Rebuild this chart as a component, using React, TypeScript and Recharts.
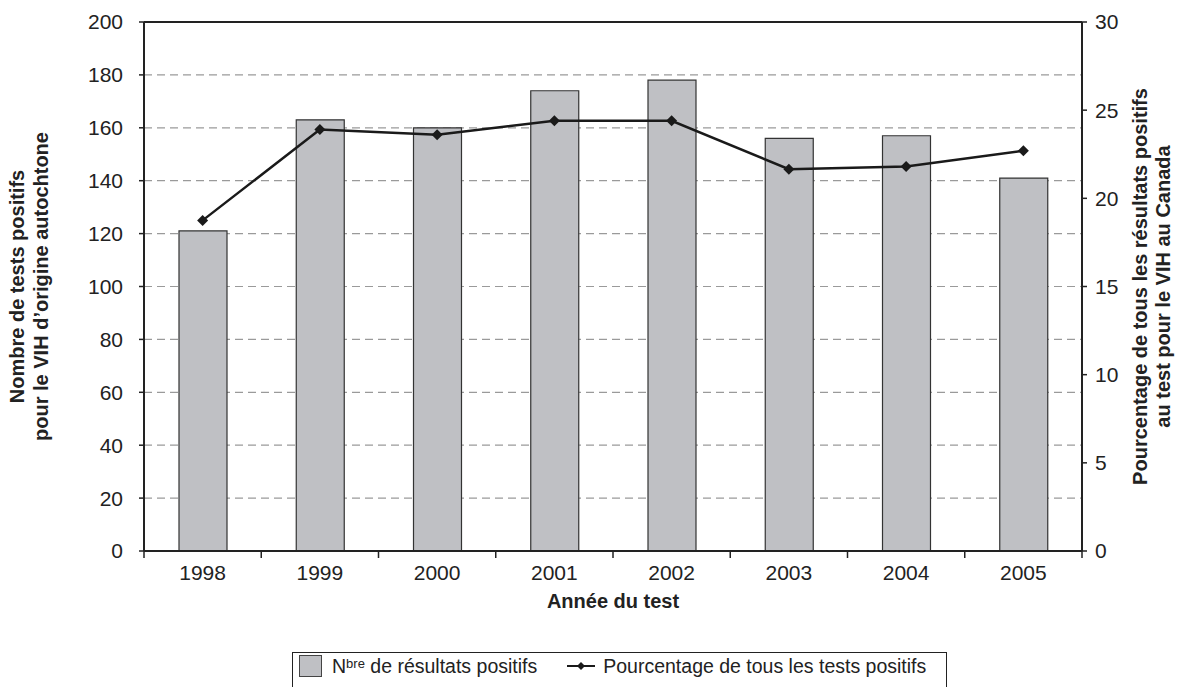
import React from "react";
import {
  ComposedChart,
  Bar,
  Line,
  XAxis,
  YAxis,
  CartesianGrid,
  Legend,
  ReferenceLine,
} from "recharts";

const years = ["1998", "1999", "2000", "2001", "2002", "2003", "2004", "2005"];
const positiveCounts = [121, 163, 160, 174, 178, 156, 157, 141];
const percentOfAllTests = [18.75, 23.9, 23.6, 24.4, 24.4, 21.65, 21.8, 22.7];
const leftTicks = [0, 20, 40, 60, 80, 100, 120, 140, 160, 180, 200];
const rightTicks = [0, 5, 10, 15, 20, 25, 30];

const data = years.map((year, i) => ({
  year,
  count: positiveCounts[i],
  pct: percentOfAllTests[i],
}));

const FONT = '"Liberation Sans", Arial, sans-serif';
const INK = "#222";
const BAR_FILL = "#bfc0c4";

const W = 1188;
const H = 687;
const LEFT_W = 144;
const RIGHT_W = 106;
const BAND = (W - LEFT_W - RIGHT_W) / years.length;

const YearTick = (props: any) => {
  const { x, y, payload, index } = props;
  const isLast = index === years.length - 1;
  return (
    <g>
      <line x1={x - BAND / 2} x2={x - BAND / 2} y1={y} y2={y + 7} stroke={INK} strokeWidth={1.5} />
      {isLast && (
        <line x1={x + BAND / 2} x2={x + BAND / 2} y1={y} y2={y + 7} stroke={INK} strokeWidth={1.5} />
      )}
      <text x={x} y={y + 29} textAnchor="middle" fontSize={21} fontFamily={FONT} fill={INK}>
        {payload.value}
      </text>
    </g>
  );
};

const Diamond = (props: any) => {
  const { cx, cy } = props;
  if (cx == null || cy == null) return null;
  const r = 5.5;
  return (
    <polygon
      points={`${cx},${cy - r} ${cx + r},${cy} ${cx},${cy + r} ${cx - r},${cy}`}
      fill="#1a1a1a"
    />
  );
};

const LeftTitle = (props: any) => {
  const { viewBox } = props;
  const cy = viewBox.y + viewBox.height / 2;
  return (
    <text
      transform={`rotate(-90, 0, ${cy})`}
      x={0}
      y={cy}
      textAnchor="middle"
      fontSize={20}
      fontWeight="bold"
      fontFamily={FONT}
      fill={INK}
    >
      <tspan x={0} dy={24}>Nombre de tests positifs</tspan>
      <tspan x={0} dy={24}>pour le VIH d’origine autochtone</tspan>
    </text>
  );
};

const RightTitle = (props: any) => {
  const { viewBox } = props;
  const cy = viewBox.y + viewBox.height / 2;
  const x = viewBox.x + 58;
  return (
    <text
      transform={`rotate(-90, ${x}, ${cy})`}
      x={x}
      y={cy}
      textAnchor="middle"
      fontSize={20}
      fontWeight="bold"
      fontFamily={FONT}
      fill={INK}
    >
      <tspan x={x} dy={7}>Pourcentage de tous les résultats positifs</tspan>
      <tspan x={x} dy={23}>au test pour le VIH au Canada</tspan>
    </text>
  );
};

const XTitle = (props: any) => {
  const { viewBox } = props;
  return (
    <text
      x={viewBox.x + viewBox.width / 2}
      y={viewBox.y + 57}
      textAnchor="middle"
      fontSize={20}
      fontWeight="bold"
      fontFamily={FONT}
      fill={INK}
    >
      Année du test
    </text>
  );
};

const LegendBox = () => (
  <div
    style={{
      boxSizing: "border-box",
      width: 655,
      height: 44,
      border: `1px solid ${INK}`,
      fontFamily: FONT,
      fontSize: 19.5,
      color: INK,
      lineHeight: "22px",
    }}
  >
    <div style={{ display: "flex", alignItems: "center", padding: "2px 0 0 6px" }}>
      <span
        style={{
          display: "inline-block",
          boxSizing: "border-box",
          width: 23,
          height: 22,
          background: BAR_FILL,
          border: "1.5px solid #444",
        }}
      />
      <span style={{ marginLeft: 10 }}>
        N<sup style={{ fontSize: 13, verticalAlign: "5px", lineHeight: 0 }}>bre</sup> de résultats positifs
      </span>
      <svg width={30} height={20} style={{ marginLeft: 29 }}>
        <line x1={1} x2={29} y1={10} y2={10} stroke="#1a1a1a" strokeWidth={2} />
        <polygon points="15,6 19,10 15,14 11,10" fill="#1a1a1a" />
      </svg>
      <span style={{ marginLeft: 7 }}>Pourcentage de tous les tests positifs</span>
    </div>
  </div>
);

export default function App() {
  return (
    <div style={{ position: "absolute", left: 0, top: 0 }}>
      <ComposedChart
        width={W}
        height={H}
        data={data}
        margin={{ top: 22, right: 0, bottom: 22, left: 0 }}
      >
        <CartesianGrid
          yAxisId="left"
          vertical={false}
          stroke="#9a9a9a"
          strokeWidth={1.2}
          strokeDasharray="8 5"
        />
        <XAxis
          dataKey="year"
          height={70}
          tickLine={false}
          tickSize={0}
          tickMargin={0}
          axisLine={{ stroke: INK, strokeWidth: 2 }}
          tick={<YearTick />}
          interval={0}
          label={{ content: <XTitle /> }}
        />
        <YAxis
          yAxisId="left"
          width={LEFT_W}
          domain={[0, 200]}
          ticks={leftTicks}
          interval={0}
          axisLine={{ stroke: INK, strokeWidth: 2 }}
          tickLine={{ stroke: INK, strokeWidth: 1.5 }}
          tickSize={5}
          tickMargin={16}
          tick={{ fontSize: 21, fontFamily: FONT, fill: INK }}
          label={{ content: <LeftTitle /> }}
        />
        <YAxis
          yAxisId="right"
          orientation="right"
          width={RIGHT_W}
          domain={[0, 30]}
          ticks={rightTicks}
          interval={0}
          axisLine={{ stroke: INK, strokeWidth: 2 }}
          tickLine={{ stroke: INK, strokeWidth: 1.5 }}
          tickSize={5}
          tickMargin={8}
          tick={{ fontSize: 21, fontFamily: FONT, fill: INK, textAnchor: "start" }}
          label={{ content: <RightTitle /> }}
        />
        <Bar
          yAxisId="left"
          dataKey="count"
          fill={BAR_FILL}
          stroke="#333"
          strokeWidth={1.2}
          barSize={48}
          isAnimationActive={false}
        />
        <Line
          yAxisId="right"
          dataKey="pct"
          type="linear"
          stroke="#1a1a1a"
          strokeWidth={2.5}
          dot={<Diamond />}
          activeDot={false}
          isAnimationActive={false}
        />
        <ReferenceLine yAxisId="left" y={200} stroke={INK} strokeWidth={2} />
        <Legend
          verticalAlign="bottom"
          content={<LegendBox />}
          wrapperStyle={{ left: 292, top: 652, bottom: "auto", width: 655 }}
        />
      </ComposedChart>
    </div>
  );
}
